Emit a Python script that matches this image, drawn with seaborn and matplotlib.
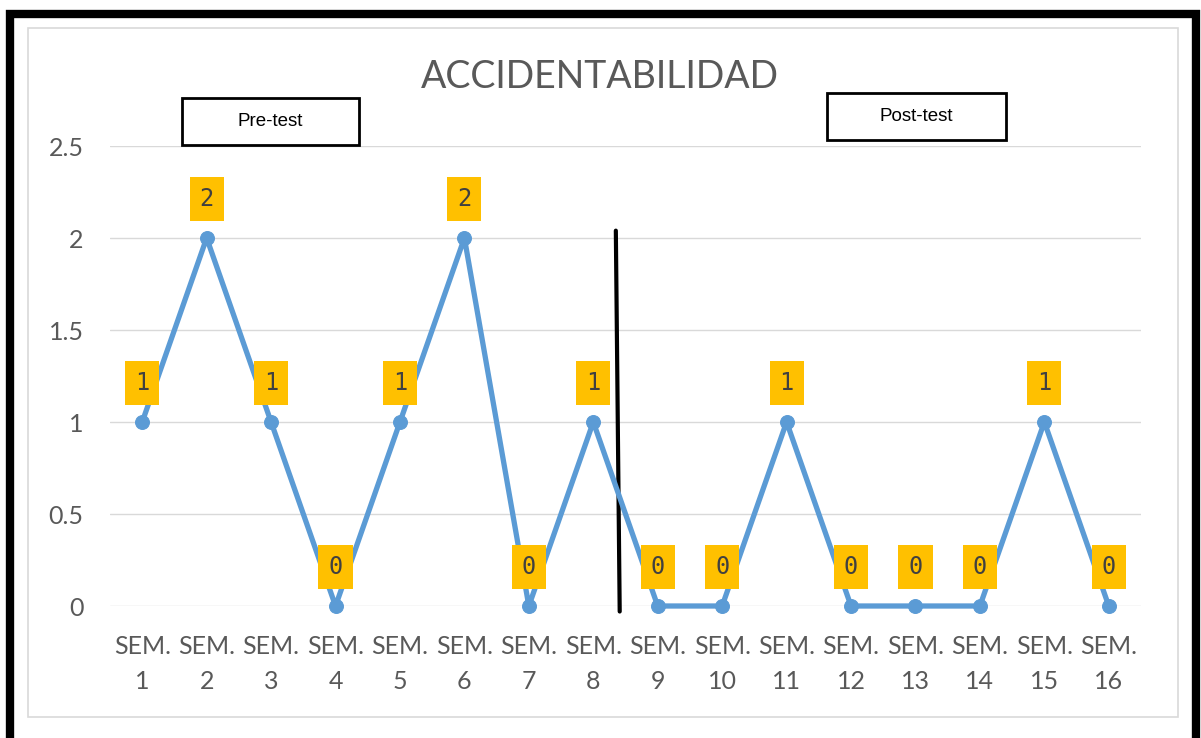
#!/usr/bin/env python3
"""Accidentabilidad semanal, pre-test / post-test."""

import matplotlib.pyplot as plt
import pandas as pd
import seaborn as sns
from matplotlib.patches import Rectangle

semanas = [f"SEM.\n{i}" for i in range(1, 17)]
accidentes = [1, 2, 1, 0, 1, 2, 0, 1, 0, 0, 1, 0, 0, 0, 1, 0]
y_ticks = [0, 0.5, 1, 1.5, 2, 2.5]
y_tick_labels = ["0", "0.5", "1", "1.5", "2", "2.5"]

W, H = 1201, 738
LINE_COLOR = "#5B9BD5"
LABEL_BG = "#FFC000"
TEXT_GRAY = "#595959"
GRID_GRAY = "#D9D9D9"


def fx(px):
    return px / W


def fy(py):
    return 1 - py / H


def main() -> None:
    sns.set_theme(style="white")
    plt.rcParams["font.family"] = ["Lato", "DejaVu Sans"]

    df = pd.DataFrame({"semana": semanas, "accidentes": accidentes})

    fig = plt.figure(figsize=(W / 100, H / 100), dpi=100, facecolor="white")
    ax = fig.add_axes([fx(110), fy(606), fx(1141) - fx(110), fy(146) - fy(606)])

    sns.lineplot(
        data=df,
        x="semana",
        y="accidentes",
        sort=False,
        color=LINE_COLOR,
        linewidth=3.8,
        marker="o",
        markersize=10,
        markeredgecolor=LINE_COLOR,
        clip_on=False,
        zorder=3,
        ax=ax,
    )

    ax.set_xlim(-0.5, len(semanas) - 0.5)
    ax.set_ylim(0, 2.5)
    ax.set_yticks(y_ticks)
    ax.set_yticklabels(y_tick_labels)
    ax.set_xlabel("")
    ax.set_ylabel("")
    ax.yaxis.grid(True, color=GRID_GRAY, linewidth=1.0)
    ax.xaxis.grid(False)
    ax.set_axisbelow(True)
    for side in ax.spines.values():
        side.set_visible(False)
    ax.tick_params(axis="y", length=0, pad=19, labelsize=18, labelcolor=TEXT_GRAY)
    ax.tick_params(axis="x", length=0, pad=21, labelsize=18, labelcolor=TEXT_GRAY)
    for lbl in ax.get_xticklabels():
        lbl.set_linespacing(1.6)

    # data labels
    for i, v in enumerate(accidentes):
        ax.annotate(
            str(v),
            xy=(i, v),
            xytext=(0, 28),
            textcoords="offset points",
            ha="center",
            va="center",
            fontsize=17,
            family="DejaVu Sans Mono",
            color="#404040",
            bbox=dict(boxstyle="square,pad=0.42", fc=LABEL_BG, ec="none"),
            annotation_clip=False,
            zorder=4,
        )

    # separator pre/post
    ax.plot([7.35, 7.41], [2.04, -0.03], color="black", linewidth=3, clip_on=False, zorder=2)

    # title
    fig.text(fx(600), fy(88), "ACCIDENTABILIDAD", ha="center", va="baseline",
             fontsize=27, color=TEXT_GRAY)

    # Pre-test / Post-test boxes
    for (x0, y0, x1, y1, txt) in [(182, 98, 359, 145, "Pre-test"),
                                  (827, 93, 1006, 140, "Post-test")]:
        fig.patches.append(Rectangle((fx(x0), fy(y1)), fx(x1) - fx(x0), fy(y0) - fy(y1),
                                     transform=fig.transFigure, fill=False,
                                     ec="black", lw=2))
        fig.text(fx((x0 + x1) / 2), fy((y0 + y1) / 2), txt, ha="center", va="center",
                 fontsize=13.5, family="Liberation Sans", color="black")

    # chart area and outer frame
    fig.patches.append(Rectangle((fx(28), fy(717)), fx(1178) - fx(28), fy(28) - fy(717),
                                 transform=fig.transFigure, fill=False,
                                 ec=GRID_GRAY, lw=1.2))
    fig.patches.append(Rectangle((fx(9.5), -0.05), fx(1196) - fx(9.5), fy(14) + 0.05,
                                 transform=fig.transFigure, fill=False,
                                 ec="black", lw=6))

    fig.savefig("out.png", dpi=100, facecolor="white")
    plt.close(fig)


if __name__ == "__main__":
    main()
